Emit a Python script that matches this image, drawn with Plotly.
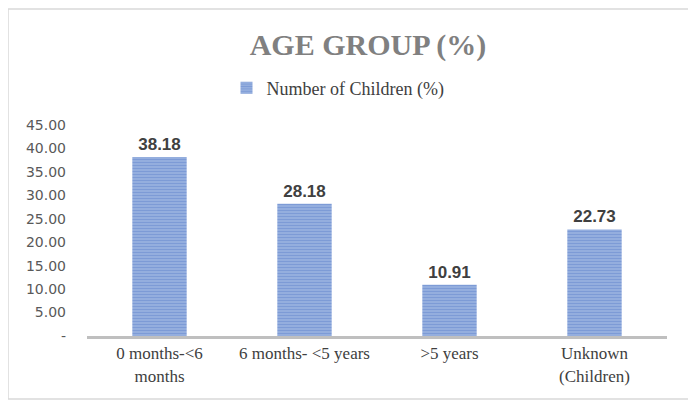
import plotly.graph_objects as go

categories = ["0 months-<6<br>months", "6 months- <5 years", ">5 years", "Unknown<br>(Children)"]
values = [38.18, 28.18, 10.91, 22.73]
labels = ["38.18", "28.18", "10.91", "22.73"]
y_ticks = [0, 5, 10, 15, 20, 25, 30, 35, 40, 45]
y_ticktext = ["-", "5.00", "10.00", "15.00", "20.00", "25.00", "30.00", "35.00", "40.00", "45.00"]

# page is rendered with an 8px body margin; work in page coordinates
OFF = 8
W, H = 696 - OFF, 410 - OFF
L, T = 87 - OFF, 125 - OFF
R = 696 - 667
B = 410 - 336
pw, ph = W - L - R, H - T - B

def px_x(x):
    return (x - OFF - L) / pw

def px_y(y):
    return (H - B - (y - OFF)) / ph

fig = go.Figure()
fig.add_trace(go.Bar(
    x=categories, y=values, name="Number of Children (%)",
    text=labels, textposition="outside",
    textfont=dict(family="Liberation Sans", size=17, color="#404040", weight="bold"),
    marker=dict(color="#bccdee", line=dict(width=0),
                pattern=dict(shape="-", fgcolor="#3d69bd", bgcolor="#bccdee", size=3, solidity=0.75)),
    width=0.375, cliponaxis=False,
))

fig.update_layout(
    width=W, height=H,
    margin=dict(l=L, r=R, t=T, b=B),
    paper_bgcolor="white", plot_bgcolor="white",
    title=dict(text="<b>AGE GROUP (%)</b>", xref="container", x=(368 - OFF) / W, xanchor="center",
               y=1 - (44 - OFF) / H, yanchor="middle",
               font=dict(family="Liberation Serif", size=30, color="#808080")),
    showlegend=True,
    legend=dict(orientation="h", x=px_x(338), xanchor="center", y=px_y(88), yanchor="middle",
                font=dict(family="Liberation Serif", size=18, color="#404040"),
                itemwidth=30, bgcolor="rgba(0,0,0,0)"),
    xaxis=dict(showline=True, linecolor="#bfbfbf", linewidth=3, ticks="",
               tickfont=dict(family="Liberation Serif", size=17, color="#404040"), fixedrange=True),
    yaxis=dict(range=[0, 45], tickvals=y_ticks, ticktext=y_ticktext, showgrid=False, zeroline=False,
               showline=False, ticks="", ticklabelstandoff=20,
               tickfont=dict(family="DejaVu Sans", size=14, color="#595959")),
    shapes=[dict(type="rect", xref="paper", yref="paper",
                 x0=px_x(8), x1=px_x(689), y0=px_y(399), y1=px_y(9),
                 line=dict(color="#d9d9d9", width=1.5), fillcolor="rgba(0,0,0,0)", layer="below")],
)

fig.write_html("out.html")
